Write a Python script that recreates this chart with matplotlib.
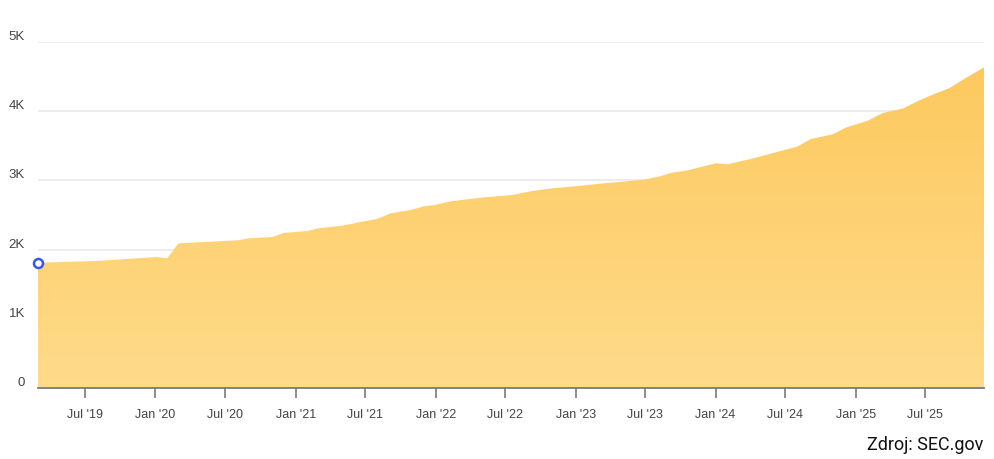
import matplotlib
matplotlib.use("Agg")
import matplotlib.pyplot as plt
import matplotlib.dates as mdates
from matplotlib.colors import LinearSegmentedColormap
from matplotlib.ticker import FixedLocator
import numpy as np
import pandas as pd

dates = ["2019-03-01", "2019-08-01", "2020-01-05", "2020-02-01", "2020-03-01",
         "2020-08-01", "2020-09-01", "2020-11-01", "2020-12-01", "2021-02-01",
         "2021-03-01", "2021-05-01", "2021-06-20", "2021-08-01", "2021-09-05",
         "2021-10-28", "2021-12-01", "2021-12-28", "2022-02-10", "2022-04-28",
         "2022-07-20", "2022-09-05", "2022-11-01", "2023-01-15", "2023-03-05",
         "2023-05-01", "2023-06-28", "2023-08-10", "2023-09-05", "2023-10-20",
         "2024-01-01", "2024-02-01", "2024-04-01", "2024-08-01", "2024-09-05",
         "2024-11-01", "2024-12-05", "2025-02-01", "2025-03-12", "2025-05-05",
         "2025-06-10", "2025-07-22", "2025-09-01", "2025-10-10", "2025-12-01"]
values = [1810, 1835, 1893, 1874, 2090,
          2134, 2163, 2182, 2240, 2269,
          2308, 2345, 2400, 2442, 2524,
          2572, 2625, 2644, 2698, 2750,
          2789, 2842, 2885, 2923, 2952,
          2981, 3010, 3060, 3107, 3145,
          3247, 3233, 3309, 3488, 3598,
          3665, 3762, 3863, 3974, 4042,
          4143, 4244, 4331, 4465, 4634]
ytick_vals = [0, 1000, 2000, 3000, 4000, 5000]
ytick_labels = ["0", "1K", "2K", "3K", "4K", "5K"]
xtick_dates = ["2019-07-01", "2020-01-01", "2020-07-01", "2021-01-01", "2021-07-01",
               "2022-01-01", "2022-07-01", "2023-01-01", "2023-07-01", "2024-01-01",
               "2024-07-01", "2025-01-01", "2025-07-01"]
xtick_labels = ["Jul '19", "Jan '20", "Jul '20", "Jan '21", "Jul '21", "Jan '22",
                "Jul '22", "Jan '23", "Jul '23", "Jan '24", "Jul '24", "Jan '25", "Jul '25"]
source_text = "Zdroj: SEC.gov"

plt.rcParams['font.family'] = ['Liberation Sans', 'DejaVu Sans']

fig = plt.figure(figsize=(9.94, 4.6), dpi=100)
ax = fig.add_axes([38/994, 1-389/460, (984-38)/994, (389-43)/460])

x = mdates.date2num(pd.to_datetime(dates))
y = np.array(values, dtype=float)

xmin, xmax = x[0], x[-1]

for v in ytick_vals[1:]:
    ax.axhline(v, color="#e9e9e9", lw=1.2, zorder=0)

poly = ax.fill_between(x, 0, y, color="none", lw=0, zorder=1)
cmap = LinearSegmentedColormap.from_list("g", ["#ffdb8a", "#fdc95f"])
grad = np.linspace(0, 1, 256).reshape(-1, 1)
im = ax.imshow(grad, cmap=cmap, aspect="auto", origin="lower",
               extent=[xmin, xmax, 0, y.max()], zorder=1, interpolation="bilinear")
im.set_clip_path(poly.get_paths()[0], transform=ax.transData)
ax.set_xlim(xmin, xmax)
ax.set_ylim(0, 5000)

ax.plot([x[0]], [y[0]], marker="o", ms=6.5, mfc="white", mec="#3a55f0", mew=1.8,
        zorder=5, clip_on=False)

for s in ["top", "right", "left"]:
    ax.spines[s].set_visible(False)
ax.spines["bottom"].set_color("#7a7a7a")
ax.spines["bottom"].set_linewidth(1.3)
ax.spines["bottom"].set_zorder(4)

ax.xaxis.set_major_locator(FixedLocator(mdates.date2num(pd.to_datetime(xtick_dates))))
ax.set_xticklabels(xtick_labels)
ax.tick_params(axis="x", length=7, width=1.2, color="#7a7a7a", labelsize=9,
               labelcolor="#444444", pad=7.5)

ax.set_yticks([])
for v, lab in zip(ytick_vals, ytick_labels):
    ax.text(-13/946, v, lab, transform=ax.get_yaxis_transform(), ha="right",
            va="bottom", fontsize=9.5, color="#444444")

fig.text(983/994, 1-445/460, source_text, ha="right", va="center",
         fontsize=13, color="#111111", family=["Roboto", "DejaVu Sans"])

fig.savefig("out.png", dpi=100)
